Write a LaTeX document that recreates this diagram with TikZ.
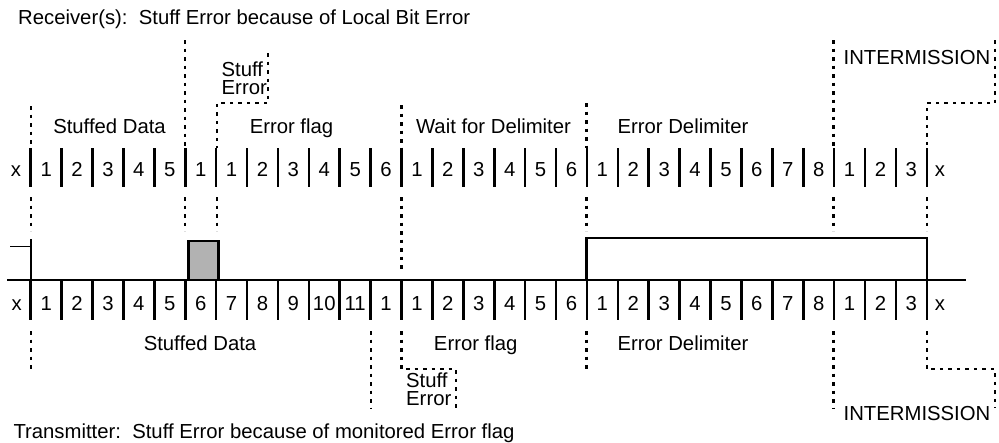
\documentclass[tikz,border=0pt]{standalone}
\usepackage{fontspec}
\setmainfont{Liberation Sans}
\begin{document}
\begin{tikzpicture}[x=1pt,y=-1pt,
  lbl/.style={inner sep=0pt, anchor=base, font=\fontsize{20.3}{18}\selectfont},
  lblw/.style={lbl, anchor=base west},
  stack/.style={inner sep=0pt, anchor=north west, align=left, font=\fontsize{20.3}{18}\selectfont},
  bar/.style={line width=2.6pt},
  dots/.style={line width=2.2pt, dash pattern=on 3.5pt off 5pt},
  sig/.style={line width=2.4pt},
  tick/.style={line width=1.2pt}]
\useasboundingbox (0,0) rectangle (999,442);
\def\xo{30.7}
\def\gx{30.9}
% titles
\node[lblw] (rtitle) at (18,24) {Receiver(s):\ \ Stuff Error because of Local Bit Error};
\node[lblw] (ttitle) at (13.3,438.3) {Transmitter:\ \ Stuff Error because of monitored Error flag};
% bit separators
\foreach \i in {0,...,29} {
  \draw[bar] ({\xo+\i*\gx},148) -- ({\xo+\i*\gx},187);
  \draw[bar] ({\xo+\i*\gx},280) -- ({\xo+\i*\gx},320);
}
% receiver bit numbers
\node[lbl] (rxl) at (16,176.7) {x};
\node[lbl] (rxr) at (940,176.7) {x};
\foreach \i/\t in {0/1,1/2,2/3,3/4,4/5,5/1,6/1,7/2,8/3,9/4,10/5,11/6,12/1,13/2,14/3,15/4,16/5,17/6,18/1,19/2,20/3,21/4,22/5,23/6,24/7,25/8,26/1,27/2,28/3}
  \node[lbl] (r\i) at ({\xo+(\i+0.5)*\gx},176.7) {\t};
% transmitter bit numbers
\node[lbl] (txl) at (16.7,310.7) {x};
\node[lbl] (txr) at (940,310.7) {x};
\foreach \i/\t in {0/1,1/2,2/3,3/4,4/5,5/6,6/7,7/8,8/9,9/10,10/11,11/1,12/1,13/2,14/3,15/4,16/5,17/6,18/1,19/2,20/3,21/4,22/5,23/6,24/7,25/8,26/1,27/2,28/3}
  \node[lbl] (t\i) at ({\xo+(\i+0.5)*\gx},310.7) {\t};
% receiver field labels
\node[lbl] (rsd) at (109.5,133.3) {Stuffed Data};
\node[lbl] (ref) at (291.5,133.3) {Error flag};
\node[lbl] (rwd) at (493.5,133.3) {Wait for Delimiter};
\node[lbl] (red) at (683,133.3) {Error Delimiter};
\node[lbl] (rim) at (917,64.3) {INTERMISSION};
\node[stack] (rse) at (221.5,61.5) {Stuff\\Error};
% transmitter field labels
\node[lbl] (tsd) at (200,350) {Stuffed Data};
\node[lbl] (tef) at (475.7,350) {Error flag};
\node[lbl] (ted) at (683,350) {Error Delimiter};
\node[lbl] (tim) at (917,420) {INTERMISSION};
\node[stack] (tse) at (406,372.2) {Stuff\\Error};
% receiver dotted markers (top)
\draw[dots] (\xo,106) -- (\xo,148);
\draw[dots] (185.2,40) -- (185.2,148);
\draw[dots] (268,53) -- (268,103) -- (216.8,103) -- (216.8,148);
\draw[dots] (401.5,105) -- (401.5,148);
\draw[dots] (586.5,103) -- (586.5,148);
\draw[dots] (833.5,40) -- (833.5,148);
\draw[dots] (995,40) -- (995,103) -- (926.8,103) -- (926.8,148);
% dotted markers between rows
\foreach \x in {30.7,185.2,216.8,586.5,833.5,926.8}
  \draw[dots] (\x,197) -- (\x,231);
\draw[dots] (401.5,197) -- (401.5,273);
% transmitter dotted markers (bottom)
\draw[dots] (\xo,331) -- (\xo,369);
\draw[dots] (371,331) -- (371,408);
\draw[dots] (401.5,331) -- (401.5,369) -- (456,369) -- (456,408);
\draw[dots] (586.5,331) -- (586.5,369);
\draw[dots] (833.5,331) -- (833.5,408);
\draw[dots] (926.8,331) -- (926.8,369) -- (995,369) -- (995,408);
% bus level
\draw[sig] (7,280) -- (966,280);
\draw[tick] (10,246.5) -- (\xo,246.5);
\draw[sig] (\xo,239) -- (\xo,280);
\filldraw[sig, fill=gray!60] (188.3,280) rectangle (218.3,241);
\draw[sig] (586.5,280) -- (586.5,238) -- (926.8,238) -- (926.8,280);
\end{tikzpicture}
\end{document}
